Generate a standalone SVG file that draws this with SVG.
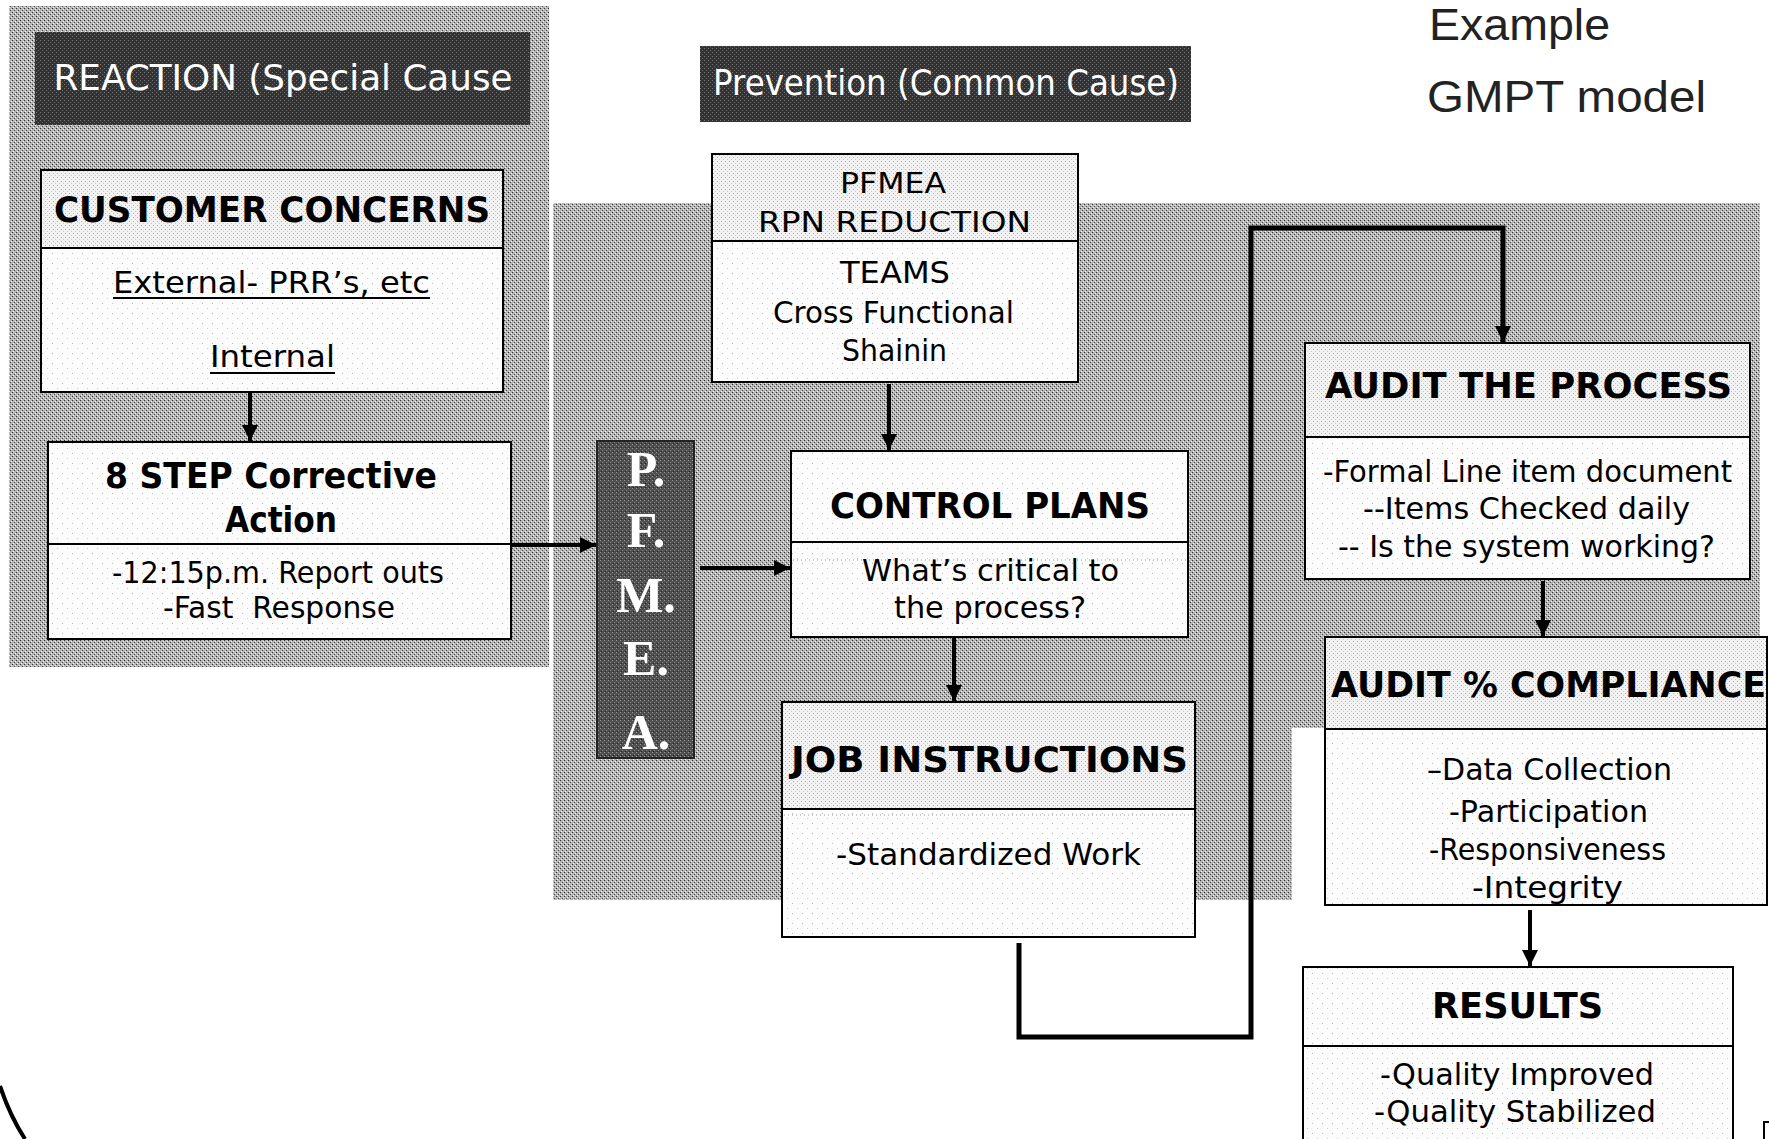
<svg xmlns="http://www.w3.org/2000/svg" width="1769" height="1139" viewBox="0 0 1769 1139">
<defs>
<pattern id="grayDither" width="4" height="4" patternUnits="userSpaceOnUse">
<rect width="4" height="4" fill="#b4b4b4"/>
<rect x="0" y="0" width="1" height="1" fill="#303030"/>
<rect x="2" y="2" width="1" height="1" fill="#505050"/>
<rect x="1" y="3" width="1" height="1" fill="#f0f0f0"/>
<rect x="3" y="1" width="1" height="1" fill="#f0f0f0"/>
</pattern>
<pattern id="darkDither" width="4" height="4" patternUnits="userSpaceOnUse">
<rect width="4" height="4" fill="#333"/>
<rect x="0" y="0" width="1" height="1" fill="#777"/>
<rect x="2" y="2" width="1" height="1" fill="#666"/>
</pattern>
<pattern id="midDither" width="4" height="4" patternUnits="userSpaceOnUse">
<rect width="4" height="4" fill="#4e4e4e"/>
<rect x="0" y="0" width="1" height="1" fill="#9a9a9a"/>
<rect x="2" y="2" width="1" height="1" fill="#8a8a8a"/>
<rect x="1" y="3" width="1" height="1" fill="#222"/>
</pattern>
<pattern id="headDots" width="4" height="4" patternUnits="userSpaceOnUse">
<rect width="4" height="4" fill="#f2f2f2"/>
<rect x="1" y="1" width="1" height="1" fill="#b0b0b0"/>
<rect x="3" y="3" width="1" height="1" fill="#c8c8c8"/>
</pattern>
<pattern id="bodyDots" width="10" height="10" patternUnits="userSpaceOnUse">
<rect width="10" height="10" fill="#fcfcfc"/>
<rect x="2" y="3" width="1" height="1" fill="#b8b8b8"/>
<rect x="7" y="8" width="1" height="1" fill="#cccccc"/>
</pattern>
<marker id="ah" viewBox="0 0 10 10" refX="10" refY="5" markerWidth="18" markerHeight="16" markerUnits="userSpaceOnUse" orient="auto">
<path d="M0,0 L10,5 L0,10 z" fill="#000"/>
</marker>
<style>
.box{stroke:#000;stroke-width:2}
.head{fill:url(#headDots)}
.body{fill:url(#bodyDots)}
.div{stroke:#000;stroke-width:2}
.t{font-family:"DejaVu Sans","Noto Sans",sans-serif;fill:#000;text-anchor:middle}
.h{font-weight:bold;font-size:35px}
.b{font-size:30px}
.s{font-size:28px}
.w{fill:#fff;font-size:35px}
.pf{font-family:"Liberation Serif","DejaVu Serif",serif;font-weight:bold;font-size:50px;fill:#fff;text-anchor:middle}
.ex{font-family:"Liberation Sans",Arial,sans-serif;font-size:44px;fill:#222}
.conn{stroke:#000;stroke-width:5;fill:none}
.arr{stroke:#000;stroke-width:4;fill:none}
</style>
</defs>
<rect width="1769" height="1139" fill="#fff"/>

<g id="panels">
<rect id="reaction-panel" x="9" y="6" width="540" height="661" fill="url(#grayDither)"/>
<path id="prevention-panel" d="M553,203 H1760 V728 H1292 V900 H553 Z" fill="url(#grayDither)"/>
</g>

<g id="title-reaction">
<rect x="35" y="32" width="495" height="93" fill="url(#darkDither)"/>
<text class="t w" x="283" y="90" textLength="459" lengthAdjust="spacingAndGlyphs">REACTION (Special Cause</text>
</g>
<g id="title-prevention">
<rect x="700" y="46" width="491" height="76" fill="url(#darkDither)"/>
<text class="t w" x="946" y="95" font-size="33" textLength="466" lengthAdjust="spacingAndGlyphs">Prevention (Common Cause)</text>
</g>
<g id="title-example">
<text class="ex" x="1429" y="40" textLength="181" lengthAdjust="spacingAndGlyphs">Example</text>
<text class="ex" x="1427" y="112" textLength="279" lengthAdjust="spacingAndGlyphs">GMPT model</text>
</g>

<g id="customer-concerns">
<rect class="head" x="41" y="170" width="462" height="78"/>
<rect class="body" x="41" y="248" width="462" height="144"/>
<rect class="box" x="41" y="170" width="462" height="222" fill="none"/>
<line class="div" x1="41" y1="248" x2="503" y2="248"/>
<text class="t h" x="272" y="222" textLength="436" lengthAdjust="spacingAndGlyphs">CUSTOMER CONCERNS</text>
<text class="t b" x="271.5" y="293" textLength="317" lengthAdjust="spacingAndGlyphs">External- PRR’s, etc</text>
<line x1="113" y1="298" x2="430" y2="298" stroke="#000" stroke-width="2"/>
<text class="t b" x="272.5" y="367" textLength="125" lengthAdjust="spacingAndGlyphs">Internal</text>
<line x1="210" y1="373" x2="335" y2="373" stroke="#000" stroke-width="2"/>
</g>

<g id="eight-step">
<rect class="body" x="48" y="442" width="463" height="197"/>
<rect class="box" x="48" y="442" width="463" height="197" fill="none"/>
<line class="div" x1="48" y1="544" x2="511" y2="544"/>
<text class="t h" x="271" y="488" font-size="34" textLength="332" lengthAdjust="spacingAndGlyphs">8 STEP Corrective</text>
<text class="t h" x="281" y="532" font-size="34" textLength="112" lengthAdjust="spacingAndGlyphs">Action</text>
<text class="t b" x="278" y="583" textLength="332" lengthAdjust="spacingAndGlyphs">-12:15p.m. Report outs</text>
<text class="t b" x="279" y="618" textLength="232" lengthAdjust="spacingAndGlyphs" xml:space="preserve">-Fast  Response</text>
</g>

<g id="pfmea-vertical">
<rect x="597" y="441" width="97" height="317" fill="url(#midDither)" stroke="#222" stroke-width="2"/>
<text class="pf" x="646" y="486">P.</text>
<text class="pf" x="646" y="547">F.</text>
<text class="pf" x="646" y="612">M.</text>
<text class="pf" x="646" y="675">E.</text>
<text class="pf" x="646" y="749">A.</text>
</g>

<g id="pfmea-rpn">
<rect class="head" x="712" y="154" width="366" height="87"/>
<rect class="body" x="712" y="241" width="366" height="141"/>
<rect class="box" x="712" y="154" width="366" height="228" fill="none"/>
<line class="div" x1="712" y1="241" x2="1078" y2="241"/>
<text class="t s" x="893" y="193" textLength="106" lengthAdjust="spacingAndGlyphs">PFMEA</text>
<text class="t s" x="894.5" y="232" textLength="273" lengthAdjust="spacingAndGlyphs">RPN REDUCTION</text>
<text class="t b" x="895" y="283" textLength="110" lengthAdjust="spacingAndGlyphs">TEAMS</text>
<text class="t b" x="893.5" y="323" textLength="241" lengthAdjust="spacingAndGlyphs">Cross Functional</text>
<text class="t b" x="894.5" y="361" textLength="105" lengthAdjust="spacingAndGlyphs">Shainin</text>
</g>

<g id="control-plans">
<rect class="body" x="791" y="451" width="397" height="186"/>
<rect class="box" x="791" y="451" width="397" height="186" fill="none"/>
<line class="div" x1="791" y1="542" x2="1188" y2="542"/>
<line x1="793" y1="560" x2="1186" y2="560" stroke="#999" stroke-width="1" stroke-dasharray="1,3"/>
<text class="t h" x="990" y="518" font-size="34" textLength="320" lengthAdjust="spacingAndGlyphs">CONTROL PLANS</text>
<text class="t b" x="990.5" y="581" textLength="257" lengthAdjust="spacingAndGlyphs">What’s critical to</text>
<text class="t b" x="990" y="618" textLength="192" lengthAdjust="spacingAndGlyphs">the process?</text>
</g>

<g id="job-instructions">
<rect class="head" x="782" y="702" width="413" height="107"/>
<rect class="body" x="782" y="809" width="413" height="128"/>
<rect class="box" x="782" y="702" width="413" height="235" fill="none"/>
<line class="div" x1="782" y1="809" x2="1195" y2="809"/>
<line x1="784" y1="815" x2="1193" y2="815" stroke="#999" stroke-width="1" stroke-dasharray="1,3"/>
<text class="t h" x="989.5" y="772" font-size="36" textLength="397" lengthAdjust="spacingAndGlyphs">JOB INSTRUCTIONS</text>
<text class="t b" x="988.5" y="865" textLength="305" lengthAdjust="spacingAndGlyphs">-Standardized Work</text>
</g>

<g id="audit-process">
<rect class="head" x="1305" y="343" width="445" height="94"/>
<rect class="body" x="1305" y="437" width="445" height="142"/>
<rect class="box" x="1305" y="343" width="445" height="236" fill="none"/>
<line class="div" x1="1305" y1="437" x2="1750" y2="437"/>
<text class="t h" x="1528.5" y="398" font-size="34" textLength="407" lengthAdjust="spacingAndGlyphs">AUDIT THE PROCESS</text>
<text class="t b" x="1527.5" y="482" textLength="409" lengthAdjust="spacingAndGlyphs">-Formal Line item document</text>
<text class="t b" x="1526.5" y="519" textLength="327" lengthAdjust="spacingAndGlyphs">--Items Checked daily</text>
<text class="t b" x="1526.5" y="557" textLength="377" lengthAdjust="spacingAndGlyphs">-- Is the system working?</text>
</g>

<g id="audit-compliance">
<rect class="head" x="1325" y="637" width="442" height="92"/>
<rect class="body" x="1325" y="729" width="442" height="176"/>
<rect class="box" x="1325" y="637" width="442" height="268" fill="none"/>
<line class="div" x1="1325" y1="729" x2="1767" y2="729"/>
<text class="t h" x="1548.5" y="697" font-size="34" textLength="435" lengthAdjust="spacingAndGlyphs">AUDIT % COMPLIANCE</text>
<text class="t b" x="1549.5" y="780" textLength="245" lengthAdjust="spacingAndGlyphs">–Data Collection</text>
<text class="t b" x="1548.5" y="822" textLength="199" lengthAdjust="spacingAndGlyphs">-Participation</text>
<text class="t b" x="1547.5" y="860" textLength="237" lengthAdjust="spacingAndGlyphs">-Responsiveness</text>
<text class="t b" x="1547.5" y="898" textLength="151" lengthAdjust="spacingAndGlyphs">-Integrity</text>
</g>

<g id="results">
<rect class="body" x="1303" y="967" width="430" height="180"/>
<rect class="box" x="1303" y="967" width="430" height="180" fill="none"/>
<line class="div" x1="1303" y1="1046" x2="1733" y2="1046"/>
<text class="t h" x="1517.5" y="1018" font-size="34" textLength="171" lengthAdjust="spacingAndGlyphs">RESULTS</text>
<text class="t b" x="1517" y="1085" textLength="274" lengthAdjust="spacingAndGlyphs">-Quality Improved</text>
<text class="t b" x="1515" y="1122" textLength="282" lengthAdjust="spacingAndGlyphs">-Quality Stabilized</text>
</g>

<g id="connectors">
<line class="arr" x1="250" y1="392" x2="250" y2="441" marker-end="url(#ah)"/>
<line class="arr" x1="511" y1="545" x2="596" y2="545" marker-end="url(#ah)"/>
<line class="arr" x1="889" y1="384" x2="889" y2="450" marker-end="url(#ah)"/>
<line class="arr" x1="700" y1="568" x2="790" y2="568" marker-end="url(#ah)"/>
<line class="arr" x1="954" y1="637" x2="954" y2="701" marker-end="url(#ah)"/>
<polyline class="conn" points="1019,943 1019,1037 1251,1037 1251,228 1503,228 1503,342" marker-end="url(#ah)"/>
<line class="arr" x1="1543" y1="581" x2="1543" y2="636" marker-end="url(#ah)"/>
<line class="arr" x1="1530" y1="910" x2="1530" y2="966" marker-end="url(#ah)"/>
</g>

<g id="decor">
<path d="M0,1086 Q10,1116 25,1139" fill="none" stroke="#000" stroke-width="4"/>
<path d="M1769,1122 H1764 V1139" fill="none" stroke="#000" stroke-width="2"/>
</g>
</svg>
